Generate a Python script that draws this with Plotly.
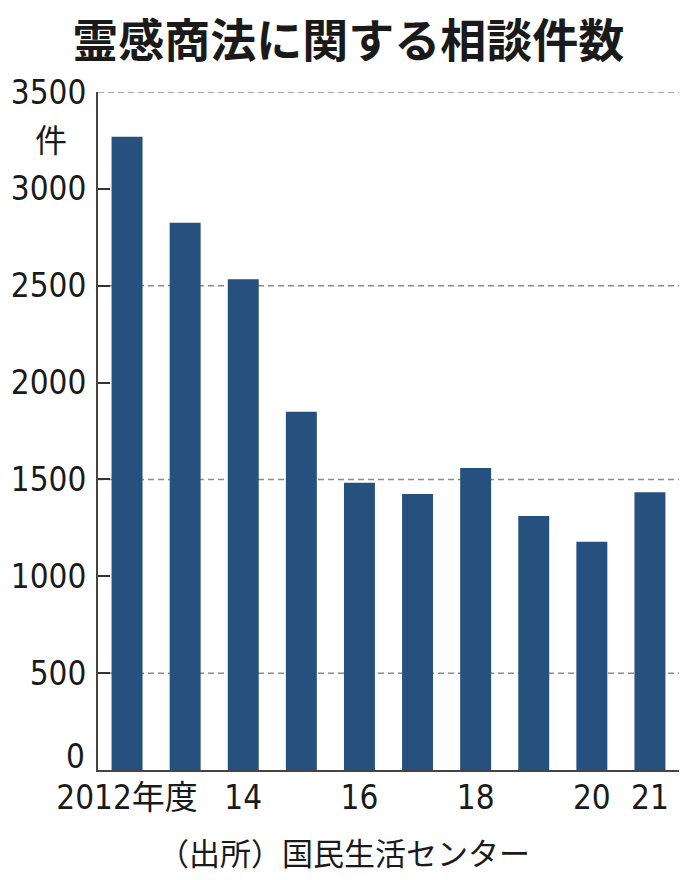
import plotly.graph_objects as go

years = ["2012", "2013", "2014", "2015", "2016", "2017", "2018", "2019", "2020", "2021"]
counts = [3269, 2825, 2533, 1850, 1483, 1425, 1559, 1311, 1178, 1434]
x_tick_vals = ["2012", "2014", "2016", "2018", "2020", "2021"]
x_tick_text = ["2012年度", "14", "16", "18", "20", "21"]
y_tick_vals = [0, 500, 1000, 1500, 2000, 2500, 3000, 3500]
y_tick_text = ["0", "500", "1000", "1500", "2000", "2500", "3000", "3500"]
grid_vals = [500, 1500, 2500, 3500]

title_text = "霊感商法に関する相談件数"
unit_text = "件"
source_text = "（出所）国民生活センター"

NUM = "DejaVu Sans Condensed, Liberation Sans, Noto Sans CJK JP, sans-serif"
CJK = "Noto Sans CJK JP, sans-serif"
BAR = "#26507d"
INK = "#1a1a1a"
TICK_SIZE = 33

# page body has an 8px default margin; figure fills the rest of the 696x880 window
OFF = 8
W, H = 696 - OFF, 880 - OFF
L, R, T, B = 97.5 - OFF, 17, 92 - OFF, 110
PW, PH = W - L - R, H - T - B


def px_x(X):
    return (X - OFF - L) / PW


def px_y(Y):
    return 1 - (Y - OFF - T) / PH


fig = go.Figure()
fig.add_trace(go.Bar(x=years, y=counts, marker=dict(color=BAR, line=dict(width=0)),
                     hoverinfo="skip"))

for g in grid_vals:
    fig.add_shape(type="line", xref="paper", x0=0, x1=1, yref="y", y0=g, y1=g,
                  line=dict(color="#8c8c8c", width=1.5, dash="6px,4px"), layer="below")

# the "0" label sits slightly above the baseline (drawn separately)
shown_y_text = [""] + y_tick_text[1:]

fig.update_layout(
    width=W, height=H,
    margin=dict(l=L, r=R, t=T, b=B, autoexpand=False),
    paper_bgcolor="white", plot_bgcolor="white",
    bargap=0.467,
    showlegend=False,
    font=dict(family=NUM, color=INK),
    title=dict(text=title_text, x=px_x(348), xanchor="center", xref="paper",
               y=1 - (41 - OFF) / H, yanchor="middle",
               font=dict(family=CJK, size=46, color=INK, weight="bold")),
    xaxis=dict(type="category", range=[-0.5, 9.5], tickmode="array",
               tickvals=x_tick_vals, ticktext=x_tick_text, ticks="", tickangle=0,
               automargin=False,
               showline=True, linecolor="#444", linewidth=2, showgrid=False,
               tickfont=dict(family=NUM, size=TICK_SIZE, color=INK), ticklabelstandoff=-3,
               fixedrange=True),
    yaxis=dict(range=[0, 3500], tickmode="array", tickvals=y_tick_vals,
               ticktext=shown_y_text,
               ticks="inside", ticklen=12, tickwidth=1.5, tickcolor="#333",
               automargin=False,
               showline=True, linecolor="#444", linewidth=2, showgrid=False, zeroline=False,
               tickfont=dict(family=NUM, size=TICK_SIZE, color=INK), ticklabelstandoff=3,
               fixedrange=True),
    annotations=[
        dict(text=y_tick_text[0], xref="paper", yref="y", x=px_x(86), y=y_tick_vals[0],
             xanchor="right", yanchor="middle", yshift=14, showarrow=False,
             font=dict(family=NUM, size=TICK_SIZE, color=INK)),
        dict(text=unit_text, xref="paper", yref="paper", x=px_x(50), y=px_y(138),
             xanchor="center", yanchor="middle", showarrow=False,
             font=dict(family=CJK, size=32, color=INK)),
        dict(text=source_text, xref="paper", yref="paper", x=px_x(344), y=px_y(851),
             xanchor="center", yanchor="middle", showarrow=False,
             font=dict(family=CJK, size=31, color=INK)),
    ],
)

fig.write_html("out.html")
